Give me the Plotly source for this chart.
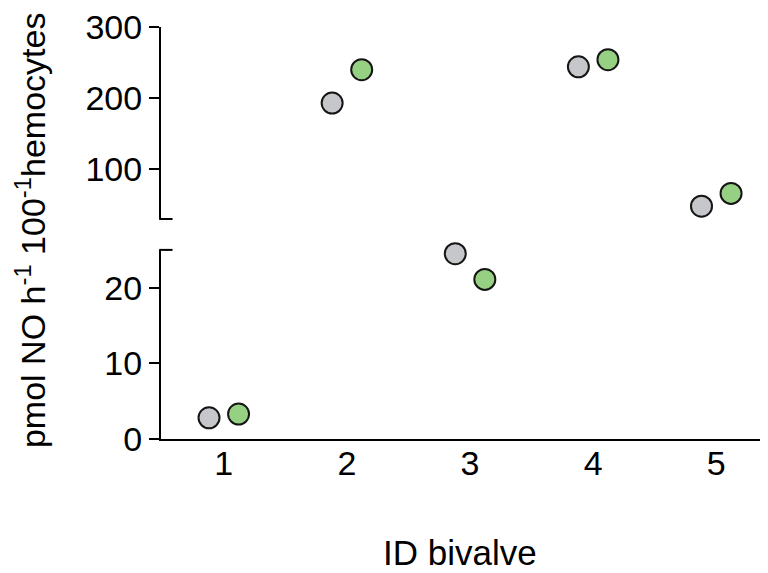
import plotly.graph_objects as go

# Data
bivalve_ids = [1, 2, 3, 4, 5]
tick_labels = ["1", "2", "3", "4", "5"]
gray_values = [2.8, 193, 24.5, 244, 48]
green_values = [3.3, 240, 21.1, 254, 66]
gray_offset = -0.12
green_offset = 0.12
break_value = 25  # values above this go on the upper axis segment

gray_color = "#c6c7cb"
green_color = "#95d083"
edge_color = "#151515"
font_family = "Liberation Sans, Arial, sans-serif"

fig = go.Figure()


def add_series(values, offset, color):
    lower_x, lower_y, upper_x, upper_y = [], [], [], []
    for bid, v in zip(bivalve_ids, values):
        if v > break_value:
            upper_x.append(bid + offset)
            upper_y.append(v)
        else:
            lower_x.append(bid + offset)
            lower_y.append(v)
    marker = dict(size=21, color=color, line=dict(color=edge_color, width=2))
    fig.add_trace(go.Scatter(x=lower_x, y=lower_y, mode="markers", marker=marker,
                             xaxis="x", yaxis="y", cliponaxis=False, showlegend=False))
    fig.add_trace(go.Scatter(x=upper_x, y=upper_y, mode="markers", marker=marker,
                             xaxis="x", yaxis="y2", cliponaxis=False, showlegend=False))


add_series(gray_values, gray_offset, gray_color)
add_series(green_values, green_offset, green_color)

axis_font = dict(family=font_family, size=34, color="black")

fig.update_layout(
    width=760, height=565,
    margin=dict(l=153, r=0, t=17, b=134),
    paper_bgcolor="white", plot_bgcolor="white",
    font=dict(family=font_family, color="black"),
    xaxis=dict(
        range=[0.49, 5.42], tickvals=bivalve_ids, ticktext=tick_labels,
        showline=True, linecolor="black", linewidth=2, ticks="",
        showgrid=False, zeroline=False, tickfont=axis_font,
        anchor="y", ticklabelstandoff=-7, ticklabeloverflow="allow",
    ),
    yaxis=dict(
        domain=[0, 0.459], range=[0, 25], tickvals=[0, 10, 20],
        showline=True, linecolor="black", linewidth=2,
        ticks="outside", ticklen=10, tickwidth=2, tickcolor="black",
        showgrid=False, zeroline=False, tickfont=axis_font, anchor="x",
        ticklabeloverflow="allow",
    ),
    yaxis2=dict(
        domain=[0.534, 1], range=[30, 300], tickvals=[100, 200, 300],
        showline=True, linecolor="black", linewidth=2,
        ticks="outside", ticklen=10, tickwidth=2, tickcolor="black",
        showgrid=False, zeroline=False, tickfont=axis_font, anchor="x",
        ticklabeloverflow="allow",
    ),
)

# Break caps on the y axis segments
fig.add_shape(type="line", xref="x domain", yref="y domain",
              x0=-0.003, x1=0.019, y0=1, y1=1, line=dict(color="black", width=2))
fig.add_shape(type="line", xref="x domain", yref="y2 domain",
              x0=-0.003, x1=0.019, y0=0, y1=0, line=dict(color="black", width=2))

# Axis titles
fig.add_annotation(text="pmol NO h<sup>-1</sup> 100<sup>-1</sup>hemocytes",
                   xref="paper", yref="paper", x=-0.214, y=0.505,
                   xanchor="center", yanchor="middle", textangle=-90,
                   showarrow=False, font=dict(family=font_family, size=34, color="black"))
fig.add_annotation(text="ID bivalve", xref="paper", yref="paper",
                   x=0.4926, y=-0.275, xanchor="center", yanchor="middle",
                   showarrow=False, font=dict(family=font_family, size=35, color="black"))

fig.write_html("out.html")
